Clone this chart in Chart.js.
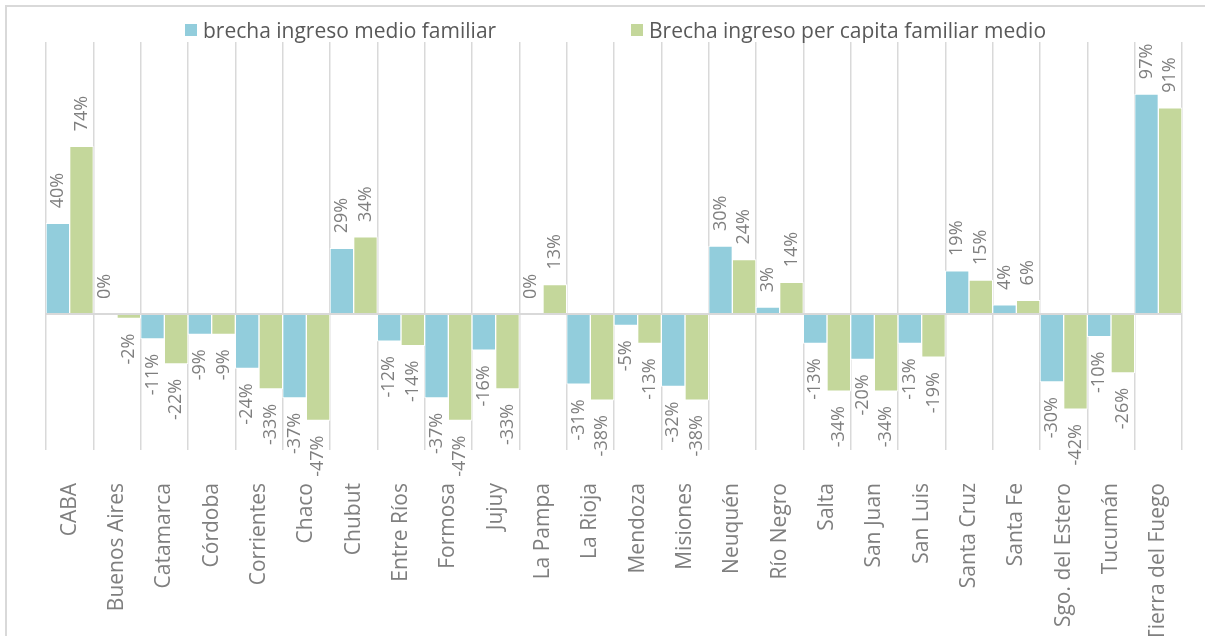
<!DOCTYPE html>
<html>
<head>
<meta charset="utf-8">
<script src="https://cdn.jsdelivr.net/npm/chart.js@4/dist/chart.umd.min.js"></script>
<style>
  html, body { margin: 0; padding: 0; background: #fff; }
  #wrap { position: relative; width: 1205px; height: 636px; overflow: hidden; background: #fff; }
  #frame { position: absolute; left: 5px; top: 5px; width: 1210px; height: 640px; border: 2px solid #D9D9D9; box-sizing: border-box; }
  #c { position: absolute; left: 0; top: 0; }
  .leg { position: absolute; top: 17px; height: 26px; display: flex; align-items: center; font-family: 'Open Sans', sans-serif; font-size: 21px; color: #595959; white-space: nowrap; }
  .leg i { display: inline-block; width: 12px; height: 12px; margin-right: 6px; }
</style>
</head>
<body>
<div id="wrap">
  <div id="frame"></div>
  <canvas id="c" width="1205" height="636"></canvas>
  <div class="leg" id="leg1" style="left:185px;"><i id="sw1"></i><span id="lt1"></span></div>
  <div class="leg" id="leg2" style="left:631px;"><i id="sw2"></i><span id="lt2"></span></div>
</div>
<script>
const categories = ['CABA','Buenos Aires','Catamarca','Córdoba','Corrientes','Chaco','Chubut','Entre Ríos','Formosa','Jujuy','La Pampa','La Rioja','Mendoza','Misiones','Neuquén','Río Negro','Salta','San Juan','San Luis','Santa Cruz','Santa Fe','Sgo. del Estero','Tucumán','Tierra del Fuego'];
const seriesNames = ['brecha ingreso medio familiar', 'Brecha ingreso per capita familiar medio'];
const brechaIngresoMedio = [40, 0, -11, -9, -24, -37, 29, -12, -37, -16, 0, -31, -5, -32, 30, 3, -13, -20, -13, 19, 4, -30, -10, 97];
const brechaPerCapita    = [74, -2, -22, -9, -33, -47, 34, -14, -47, -33, 13, -38, -13, -38, 24, 14, -34, -34, -19, 15, 6, -42, -26, 91];
const yMin = -60, yMax = 120;

const colors = ['#92CDDC', '#C4D79B'];

document.getElementById('sw1').style.background = colors[0];
document.getElementById('sw2').style.background = colors[1];
document.getElementById('lt1').textContent = seriesNames[0];
document.getElementById('lt2').textContent = seriesNames[1];

const labelPlugin = {
  id: 'valueLabels',
  afterDatasetsDraw(chart) {
    const ctx = chart.ctx;
    ctx.save();
    ctx.font = '18px "Open Sans", sans-serif';
    ctx.fillStyle = '#7F7F7F';
    ctx.textBaseline = 'middle';
    chart.data.datasets.forEach((ds, di) => {
      const meta = chart.getDatasetMeta(di);
      meta.data.forEach((el, i) => {
        const v = ds.data[i];
        const off = 15;
        ctx.save();
        ctx.translate(el.x, v >= 0 ? el.y - off : el.y + off);
        ctx.rotate(-Math.PI / 2);
        ctx.textAlign = v >= 0 ? 'left' : 'right';
        ctx.fillText(v + '%', 0, 0);
        ctx.restore();
      });
    });
    ctx.restore();
  }
};

new Chart(document.getElementById('c'), {
  type: 'bar',
  data: {
    labels: categories,
    datasets: [
      { label: seriesNames[0], data: brechaIngresoMedio, backgroundColor: colors[0], borderColor: '#ffffff', borderWidth: 1, barPercentage: 1, categoryPercentage: 1 },
      { label: seriesNames[1], data: brechaPerCapita, backgroundColor: colors[1], borderColor: '#ffffff', borderWidth: 1, barPercentage: 1, categoryPercentage: 1 }
    ]
  },
  options: {
    responsive: false,
    devicePixelRatio: 1,
    animation: false,
    layout: { padding: { top: 42, right: 23, left: 0, bottom: 0 } },
    plugins: { legend: { display: false }, tooltip: { enabled: false } },
    scales: {
      x: {
        grid: { offset: true, color: '#D9D9D9', lineWidth: 1.5, drawTicks: false },
        border: { display: false },
        ticks: {
          autoSkip: false, minRotation: 90, maxRotation: 90, padding: 33,
          color: '#7F7F7F', font: { family: '"Open Sans", sans-serif', size: 21 }
        },
        afterFit(scale) { scale.height = 186; scale.paddingLeft = 0; scale.paddingRight = 0; }
      },
      y: {
        min: yMin, max: yMax, z: 1,
        ticks: { display: false, stepSize: 20 },
        border: { display: false },
        grid: {
          drawTicks: false,
          color: c => (c.tick && c.tick.value === 0) ? '#D9D9D9' : 'rgba(0,0,0,0)',
          lineWidth: c => (c.tick && c.tick.value === 0) ? 2 : 0
        },
        afterFit(scale) { scale.width = 46; }
      }
    }
  },
  plugins: [labelPlugin]
});
</script>
</body>
</html>
